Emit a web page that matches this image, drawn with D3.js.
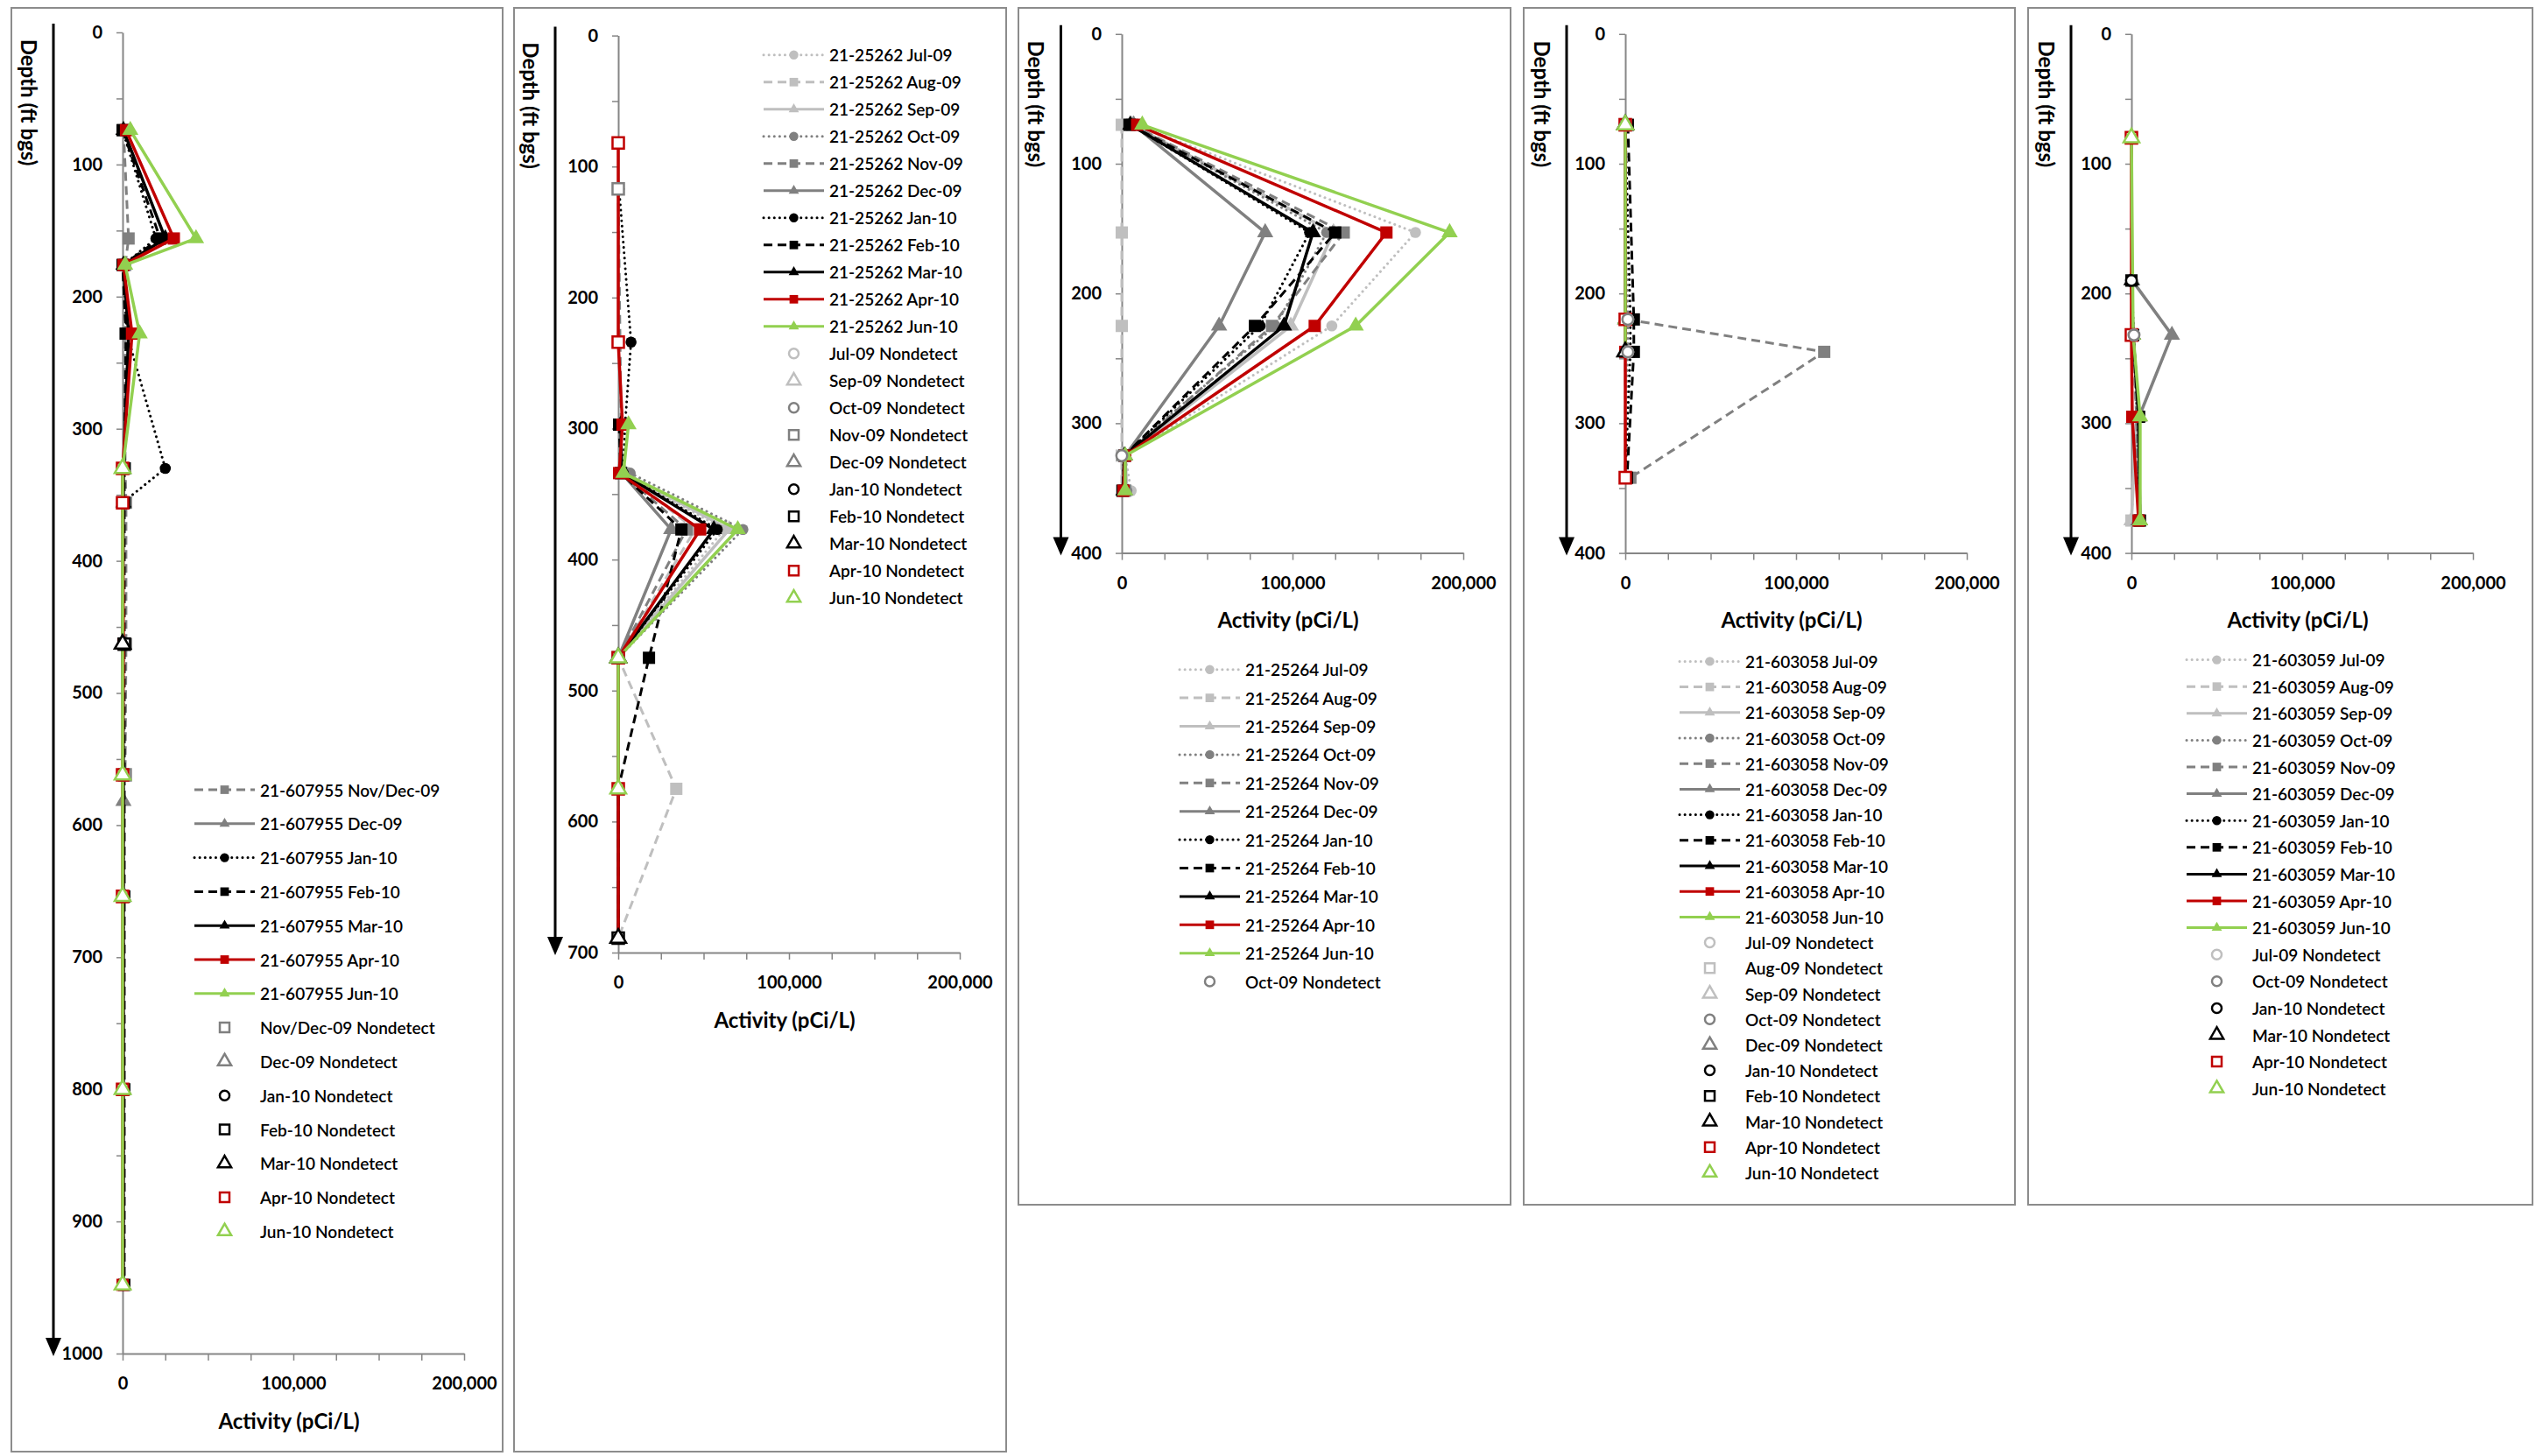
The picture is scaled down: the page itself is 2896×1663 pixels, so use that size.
<!DOCTYPE html>
<html>
<head>
<meta charset="utf-8">
<script src="https://cdn.jsdelivr.net/npm/d3@7"></script>
<style>
  body { margin: 0; background: #fff; }
  svg { display: block; font-family: Lato, "Open Sans", sans-serif; }
</style>
</head>
<body>
<svg id="main" width="2896" height="1663"></svg>
<script>
"use strict";

//shared axis values
const activityMax = 200000;
const activityLabels = [0, 100000, 200000];

//well 21-607955
const w1Name = "21-607955";
const w1MaxDepth = 1000;
const w1Depth = [74, 156, 176, 228, 330, 356, 463, 562, 582, 654, 800, 948];
const w1Months = ["Nov/Dec-09", "Dec-09", "Jan-10", "Feb-10", "Mar-10", "Apr-10", "Jun-10"];
const w1Values = [
  [500, 3500, 1500, 1500, 1500, 2000, 2000, 1500, null, null, null, null],
  [null, null, null, null, null, null, null, null, 500, null, null, null],
  [0, 19500, 500, 2500, 25000, 0, 500, 500, null, 500, 500, 500],
  [0, 22000, 0, 2000, 1000, 1000, 1000, 1000, null, 1000, 1000, 1000],
  [500, 25000, 500, 3500, 500, 500, 0, 500, null, 500, 500, 500],
  [2000, 30000, 500, 5500, 0, 0, 500, 0, null, 0, 0, 0],
  [4500, 43000, 1500, 10000, 0, null, null, 0, null, 0, 0, 0]
];
const w1Nondetect = [[562], [], [], [463], [463], [330, 356, 562, 654, 800], [330, 562, 654, 800, 948]];
const w1NdLegend = ["Nov/Dec-09", "Dec-09", "Jan-10", "Feb-10", "Mar-10", "Apr-10", "Jun-10"];

//well 21-25262
const w2Name = "21-25262";
const w2MaxDepth = 700;
const w2Depth = [82, 117, 234, 297, 334, 377, 475, 575, 689];
const w2Months = ["Jul-09", "Aug-09", "Sep-09", "Oct-09", "Nov-09", "Dec-09", "Jan-10", "Feb-10", "Mar-10", "Apr-10", "Jun-10"];
const w2Values = [
  [null, null, null, null, 3000, 62000, 0, null, null],
  [null, null, null, null, 3000, 45000, 0, 34000, 0],
  [null, null, null, null, 4000, 65000, 0, null, null],
  [null, null, null, null, 7000, 73000, 0, null, null],
  [null, 0, null, null, 2000, 40000, 0, null, null],
  [null, null, null, null, 2000, 31000, 0, null, null],
  [null, 500, 7500, 4000, 3000, 58000, 0, null, null],
  [null, null, null, 500, 1500, 37000, 18000, 0, 0],
  [null, null, null, 1500, 2000, 56000, 0, null, 0],
  [0, null, 0, 2500, 500, 48000, 0, 0, 0],
  [null, null, null, 6000, 3000, 70000, 0, 0, null]
];
const w2Nondetect = [[], [], [475], [], [117, 475], [475], [], [689], [475, 689], [82, 234, 475, 575], [475, 575]];
const w2NdLegend = ["Jul-09", "Sep-09", "Oct-09", "Nov-09", "Dec-09", "Jan-10", "Feb-10", "Mar-10", "Apr-10", "Jun-10"];

//well 21-25264
const w3Name = "21-25264";
const w3MaxDepth = 400;
const w3Depth = [70, 153, 225, 325, 352];
const w3Months = w2Months;
const w3Values = [
  [8000, 172000, 123000, 2000, 5500],
  [0, 0, 0, 0, 0],
  [6000, 124000, 99000, 2000, 3000],
  [6000, 120000, 90000, 0, 3000],
  [6000, 130000, 88000, 2000, 2000],
  [7000, 84000, 57000, 2000, 2000],
  [5000, 110000, 81000, 1500, 1000],
  [4500, 125000, 78000, 1500, 500],
  [5000, 112000, 95000, 1500, 1000],
  [9000, 155000, 113000, 2000, 1000],
  [12000, 192000, 137000, 2000, 2000]
];
const w3Nondetect = [[], [], [], [325], [], [], [], [], [], [], []];
const w3NdLegend = ["Oct-09"];

//well 21-603058
const w4Name = "21-603058";
const w4MaxDepth = 400;
const w4Depth = [70, 220, 245, 342];
const w4Months = w2Months;
const w4Values = [
  [0, 1500, 1500, 0],
  [0, 0, null, 0],
  [0, 0, null, null],
  [0, 1500, 1500, 0],
  [null, 1000, 116500, 3000],
  [0, 0, null, null],
  [0, 3000, 3000, 0],
  [1500, 5000, 5000, 1000],
  [0, 0, 0, null],
  [0, 0, 0, 0],
  [0, 0, 0, null]
];
const w4Nondetect = [[220, 245], [70], [70], [220, 245], [], [70], [], [], [70, 245], [70, 220, 342], [70]];
const w4NdLegend = ["Jul-09", "Aug-09", "Sep-09", "Oct-09", "Dec-09", "Jan-10", "Feb-10", "Mar-10", "Apr-10", "Jun-10"];

//well 21-603059
const w5Name = "21-603059";
const w5MaxDepth = 400;
const w5Depth = [80, 190, 232, 295, 375];
const w5Months = w2Months;
const w5Values = [
  [null, 0, 1500, 3000, 0],
  [null, null, 0, 3000, 0],
  [null, null, null, 3000, 0],
  [null, 0, 1500, 3000, 4000],
  [null, 0, 1000, 3000, 4000],
  [null, 500, 23700, 4500, 4000],
  [null, 0, 1000, 4000, 5000],
  [null, 0, 1000, 4500, 5000],
  [null, 0, 1000, 4200, 5000],
  [0, null, 0, 500, 4200],
  [0, null, 1000, 5100, 5100]
];
const w5Nondetect = [[232], [], [], [232], [], [], [190], [], [], [80, 232], [80]];
const w5NdLegend = ["Jul-09", "Oct-09", "Jan-10", "Mar-10", "Apr-10", "Jun-10"];

//look of each sampling month: colour, line, marker
const lightGray = "#bfbfbf";
const midGray = "#808080";
const monthStyle = {
  "Jul-09": [lightGray, "dot", "circle"],
  "Aug-09": [lightGray, "dash", "square"],
  "Sep-09": [lightGray, "solid", "triangle"],
  "Oct-09": [midGray, "dot", "circle"],
  "Nov-09": [midGray, "dash", "square"],
  "Nov/Dec-09": [midGray, "dash", "square"],
  "Dec-09": [midGray, "solid", "triangle"],
  "Jan-10": ["#000", "dot", "circle"],
  "Feb-10": ["#000", "dash", "square"],
  "Mar-10": ["#000", "solid", "triangle"],
  "Apr-10": ["#c00000", "solid", "square"],
  "Jun-10": ["#92d050", "solid", "triangle"]
};
const symbolFor = { circle: d3.symbolCircle, square: d3.symbolSquare, triangle: d3.symbolTriangle };
const plotSize = { circle: 125, square: 196, triangle: 150 };
const ndSize = { circle: 120, square: 170, triangle: 140 };
const legendSize = { circle: 85, square: 95, triangle: 60 };
const ndLegendSize = { circle: 95, square: 120, triangle: 100 };
const shapeOrder = { square: 0, triangle: 1, circle: 2 };

const markerPath = (shape, size) => d3.symbol().type(symbolFor[shape]).size(size)();

const styleLine = (sel, st, w) => {
  sel.attr("fill", "none")
    .attr("stroke", st[0])
    .attr("stroke-width", w)
    .attr("stroke-linejoin", "round");
  if (st[1] === "dot") {
    sel.attr("stroke-dasharray", "0.1 6").attr("stroke-linecap", "round");
  } else if (st[1] === "dash") {
    sel.attr("stroke-dasharray", "10 6");
  }
};

const panels = [
  { well: w1Name, maxDepth: w1MaxDepth, depth: w1Depth, months: w1Months, values: w1Values, nd: w1Nondetect, ndLegend: w1NdLegend,
    box: [13, 9, 574, 1658], x0: 140, y0: 37, y1: 1546, arrowX: 61, lx: 222, ly: 902, lstep: 38.8 },
  { well: w2Name, maxDepth: w2MaxDepth, depth: w2Depth, months: w2Months, values: w2Values, nd: w2Nondetect, ndLegend: w2NdLegend,
    box: [587, 9, 1149, 1658], x0: 706, y0: 40.6, y1: 1088, arrowX: 634, lx: 872, ly: 62.8, lstep: 31 },
  { well: w3Name, maxDepth: w3MaxDepth, depth: w3Depth, months: w3Months, values: w3Values, nd: w3Nondetect, ndLegend: w3NdLegend,
    box: [1163, 9, 1725, 1376], x0: 1281, y0: 38.8, y1: 631.6, arrowX: 1211.5, lx: 1347, ly: 764.7, lstep: 32.4 },
  { well: w4Name, maxDepth: w4MaxDepth, depth: w4Depth, months: w4Months, values: w4Values, nd: w4Nondetect, ndLegend: w4NdLegend,
    box: [1740, 9, 2301, 1376], x0: 1856, y0: 38.8, y1: 631.6, arrowX: 1789, lx: 1918, ly: 755.4, lstep: 29.2 },
  { well: w5Name, maxDepth: w5MaxDepth, depth: w5Depth, months: w5Months, values: w5Values, nd: w5Nondetect, ndLegend: w5NdLegend,
    box: [2316, 9, 2892, 1376], x0: 2434, y0: 38.8, y1: 631.6, arrowX: 2365, lx: 2497, ly: 753.6, lstep: 30.6 }
];

const mySvg = d3.select("#main");

const drawPanel = (p) => {
  const g = mySvg.append("g");
  const x = d3.scaleLinear().domain([0, activityMax]).range([p.x0, p.x0 + 390]);
  const y = d3.scaleLinear().domain([0, p.maxDepth]).range([p.y0, p.y1]);

  g.append("rect")
    .attr("x", p.box[0]).attr("y", p.box[1])
    .attr("width", p.box[2] - p.box[0]).attr("height", p.box[3] - p.box[1])
    .attr("fill", "#fff").attr("stroke", "#8c8c8c").attr("stroke-width", 2);

  //depth arrow and title
  g.append("line")
    .attr("x1", p.arrowX).attr("x2", p.arrowX)
    .attr("y1", p.y0 - 10).attr("y2", p.y1 - 14)
    .attr("stroke", "#000").attr("stroke-width", 3);
  g.append("path")
    .attr("d", `M${p.arrowX - 9},${p.y1 - 18} L${p.arrowX + 9},${p.y1 - 18} L${p.arrowX},${p.y1 + 3} Z`)
    .attr("fill", "#000");
  g.append("text")
    .attr("transform", `translate(${p.arrowX - 28},${p.y0 + 80}) rotate(90)`)
    .attr("text-anchor", "middle").attr("dominant-baseline", "central")
    .attr("font-size", 24).attr("font-weight", "bold")
    .text("Depth (ft bgs)");

  //axes
  const yAxis = g.append("g")
    .attr("transform", `translate(${p.x0},0)`)
    .call(d3.axisLeft(y)
      .tickValues(d3.range(0, p.maxDepth + 1, 50))
      .tickFormat(d => (d % 100 === 0 ? d : ""))
      .tickSize(7).tickSizeOuter(0).tickPadding(16));
  const xAxis = g.append("g")
    .attr("transform", `translate(0,${p.y1})`)
    .call(d3.axisBottom(x)
      .tickValues(d3.range(0, activityMax + 1, 25000))
      .tickFormat(d => (activityLabels.includes(d) ? d3.format(",")(d) : ""))
      .tickSize(8).tickSizeOuter(0).tickPadding(19));
  [yAxis, xAxis].forEach(a => {
    a.attr("font-family", null).attr("font-size", 20).attr("font-weight", "bold");
    a.select(".domain").attr("stroke", "#868686").attr("stroke-width", 2);
    a.selectAll(".tick line").attr("stroke", "#868686").attr("stroke-width", 1.5);
    a.selectAll(".tick text").attr("fill", "#000");
  });
  g.append("text")
    .attr("x", p.x0 + 190).attr("y", p.y1 + 76)
    .attr("text-anchor", "middle").attr("dominant-baseline", "central")
    .attr("font-size", 24).attr("font-weight", "bold")
    .text("Activity (pCi/L)");

  //series lines and detected values
  const line = d3.line().x(d => x(d.v)).y(d => y(d.d));
  const ndPoints = [];
  p.months.forEach((m, i) => {
    const st = monthStyle[m];
    const pts = p.depth
      .map((d, j) => ({ d: d, v: p.values[i][j], nd: p.nd[i].includes(d), m: m }))
      .filter(q => q.v !== null);
    g.append("path").datum(pts).attr("d", line)
      .call(styleLine, st, st[1] === "solid" ? 3.5 : 3);
    g.selectAll(null)
      .data(pts.filter(q => !q.nd))
      .enter().append("path")
      .attr("transform", q => `translate(${x(q.v)},${y(q.d)})`)
      .attr("d", markerPath(st[2], plotSize[st[2]]))
      .attr("fill", st[0]);
    pts.filter(q => q.nd).forEach(q => ndPoints.push(q));
  });

  //nondetects as open markers
  ndPoints.sort((a, b) => shapeOrder[monthStyle[a.m][2]] - shapeOrder[monthStyle[b.m][2]]);
  g.selectAll(null)
    .data(ndPoints)
    .enter().append("path")
    .attr("transform", q => `translate(${x(q.v)},${y(q.d)})`)
    .attr("d", q => markerPath(monthStyle[q.m][2], ndSize[monthStyle[q.m][2]]))
    .attr("fill", "#fff")
    .attr("stroke", q => monthStyle[q.m][0])
    .attr("stroke-width", 2.5);

  //legend
  const entries = p.months.map(m => ({ nd: false, m: m, label: `${p.well} ${m}` }))
    .concat(p.ndLegend.map(m => ({ nd: true, m: m, label: `${m} Nondetect` })));
  entries.forEach((e, i) => {
    const ly = p.ly + i * p.lstep;
    const st = monthStyle[e.m];
    if (!e.nd) {
      g.append("line")
        .attr("x1", p.lx).attr("x2", p.lx + 69)
        .attr("y1", ly).attr("y2", ly)
        .call(styleLine, st, 3);
      g.append("path")
        .attr("transform", `translate(${p.lx + 34.5},${ly})`)
        .attr("d", markerPath(st[2], legendSize[st[2]]))
        .attr("fill", st[0]);
    } else {
      g.append("path")
        .attr("transform", `translate(${p.lx + 34.5},${ly})`)
        .attr("d", markerPath(st[2], ndLegendSize[st[2]]))
        .attr("fill", "#fff")
        .attr("stroke", st[0])
        .attr("stroke-width", 2.5);
    }
    g.append("text")
      .attr("x", p.lx + 75).attr("y", ly)
      .attr("dominant-baseline", "central")
      .attr("font-size", 19)
      .attr("font-weight", 600)
      .text(e.label);
  });
};

panels.forEach(drawPanel);
</script>
</body>
</html>
